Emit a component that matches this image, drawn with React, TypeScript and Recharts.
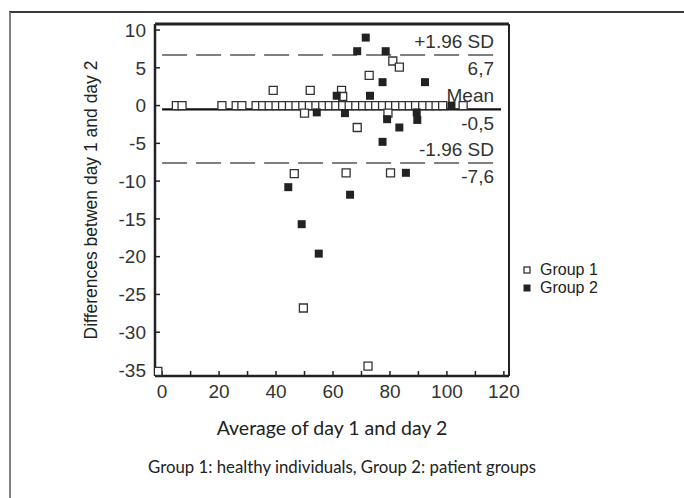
import { ScatterChart, Scatter, XAxis, YAxis, ZAxis, ReferenceLine, Label, Legend } from 'recharts'

// Bland-Altman style plot: difference vs average of day 1 and day 2
const group1Avg = [
  5, 7, 21, 26, 28, 33, 35.3, 37.6, 40, 42.3, 44.7, 47, 49.4, 51.7, 54, 56.4, 58.7, 61, 63.4, 65.7,
  68, 70.4, 72.7, 75, 77.4, 79.8, 82, 84.5, 86.8, 89, 91.5, 94, 96.2, 98.5, 105.7,
  39, 52, 63, 63.4, 72.7, 81, 83.3, 50, 68.5, 79.3, 46.4, 64.6, 80.2, 49.6, 72.3, -1.5,
]
const group1Diff = [
  0, 0, 0, 0, 0, 0, 0, 0, 0, 0, 0, 0, 0, 0, 0, 0, 0, 0, 0, 0,
  0, 0, 0, 0, 0, 0, 0, 0, 0, 0, 0, 0, 0, 0, 0,
  2, 2, 2, 1.2, 4, 5.9, 5.1, -1, -2.9, -1, -9, -8.9, -8.9, -26.8, -34.5, -35.2,
]
const group2Avg = [71.5, 68.5, 78.5, 77.4, 92.3, 61.3, 73, 54.3, 64.2, 79, 89.4, 89.6, 83.3, 77.4, 85.6, 44.3, 66, 49, 55, 101.6]
const group2Diff = [9, 7.2, 7.2, 3.1, 3.1, 1.3, 1.3, -0.9, -1, -1.8, -0.9, -1.9, -2.9, -4.8, -8.9, -10.8, -11.8, -15.7, -19.6, 0]

const xTicks = [0, 10, 20, 30, 40, 50, 60, 70, 80, 90, 100, 110, 120]
const yTicks = [10, 5, 0, -5, -10, -15, -20, -25, -30, -35]

const upperLimit = 6.7
const meanDiff = -0.5
const lowerLimit = -7.6
const limitLabels = ['+1.96 SD', 'Mean', '-1.96 SD']
const limitValues = ['6,7', '-0,5', '-7,6']

const xDomain = [-2.5, 121.8]
const yDomain = [-35.8, 10.8]

const FONT = '"Liberation Sans", Arial, sans-serif'
const TITLE_FONT = 'Lato, "Open Sans", sans-serif'

function LegendContent({ payload }: any) {
  return (
    <div style={{ fontFamily: FONT, fontSize: 16, color: '#222' }}>
      {(payload || []).map((entry: any) => (
        <div key={entry.value} style={{ display: 'flex', alignItems: 'center', height: 18, lineHeight: '18px' }}>
          <svg width={8} height={8} style={{ marginRight: 9 }}>
            {entry.value === 'Group 1' ? (
              <rect x={1} y={1} width={6} height={6} fill="#fff" stroke="#333" strokeWidth={1.3} />
            ) : (
              <rect x={0.5} y={0.5} width={7} height={7} fill="#222" />
            )}
          </svg>
          <span>{entry.value}</span>
        </div>
      ))}
    </div>
  )
}

function limitLine(y: number, dashed: boolean, idx: number) {
  return (
    <ReferenceLine
      key={idx}
      segment={[{ x: 0, y }, { x: 119, y }]}
      stroke={dashed ? '#555' : '#111'}
      strokeWidth={dashed ? 1.6 : 2.2}
      strokeDasharray={dashed ? '25 9' : undefined}
    >
      <Label value={limitLabels[idx]} position="insideBottomRight" offset={7}
        style={{ fontFamily: FONT, fontSize: 19, fill: '#333' }} />
      <Label value={limitValues[idx]} position="insideTopRight" offset={7}
        style={{ fontFamily: FONT, fontSize: 19, fill: '#333' }} />
    </ReferenceLine>
  )
}

export default function App() {
  const group1 = group1Avg.map((x, i) => ({ x, y: group1Diff[i] }))
  const group2 = group2Avg.map((x, i) => ({ x, y: group2Diff[i] }))

  return (
    <div style={{ position: 'relative', width: 684, height: 498, overflow: 'hidden', background: '#fff' }}>
      <style>{'body{margin:0;overflow:hidden}'}</style>
      <div style={{ position: 'absolute', left: 9, top: 11, width: 700, height: 520, borderTop: '2px solid #3a3a3a', borderLeft: '2px solid #808080' }} />
      <ScatterChart
        width={684}
        height={498}
        margin={{ top: 24, right: 175, bottom: 92, left: 80 }}
        style={{ position: 'absolute', left: 0, top: 0 }}
      >
        <XAxis
          type="number"
          dataKey="x"
          domain={xDomain}
          ticks={xTicks}
          interval={0}
          allowDataOverflow
          tickFormatter={(v) => (v % 20 === 0 ? String(v) : '')}
          height={30}
          tickSize={-5}
          tickMargin={14}
          axisLine={{ stroke: '#222', strokeWidth: 2.5 }}
          tickLine={{ stroke: '#222', strokeWidth: 1.5 }}
          tick={{ fill: '#333', fontSize: 19, fontFamily: FONT }}
        >
          <Label value="Average of day 1 and day 2" position="bottom" offset={15}
            style={{ fontFamily: TITLE_FONT, fontSize: 19.5, fill: '#222' }} />
        </XAxis>
        <YAxis
          type="number"
          dataKey="y"
          domain={yDomain}
          ticks={yTicks}
          interval={0}
          allowDataOverflow
          width={75}
          tickSize={-5}
          tickMargin={14}
          axisLine={{ stroke: '#222', strokeWidth: 2.5 }}
          tickLine={{ stroke: '#222', strokeWidth: 1.5 }}
          tick={{ fill: '#333', fontSize: 19, fontFamily: FONT }}
        >
          <Label value="Differences betwen day 1 and day 2" angle={-90} position="insideLeft" offset={11}
            style={{ fontFamily: FONT, fontSize: 17.5, fill: '#222', textAnchor: 'middle' }} />
        </YAxis>
        <ZAxis range={[30, 30]} />
        <ReferenceLine y={yDomain[1]} stroke="#222" strokeWidth={3} />
        <ReferenceLine x={xDomain[1]} stroke="#222" strokeWidth={2} />
        {limitLine(upperLimit, true, 0)}
        {limitLine(meanDiff, false, 1)}
        {limitLine(lowerLimit, true, 2)}
        <Scatter name="Group 1" data={group1} shape="square" fill="#fff" stroke="#333" strokeWidth={1.3} isAnimationActive={false} />
        <Scatter name="Group 2" data={group2} shape="square" fill="#222" isAnimationActive={false} />
        <Legend
          layout="vertical"
          align="center"
          verticalAlign="middle"
          content={<LegendContent />}
          wrapperStyle={{ left: 523, top: 261, width: 120, height: 40 }}
        />
      </ScatterChart>
      <div style={{ position: 'absolute', left: 0, top: 457, width: 684, textAlign: 'center', fontFamily: TITLE_FONT, fontSize: 16.8, lineHeight: '20px', color: '#222' }}>
        Group 1: healthy individuals, Group 2: patient groups
      </div>
    </div>
  )
}
